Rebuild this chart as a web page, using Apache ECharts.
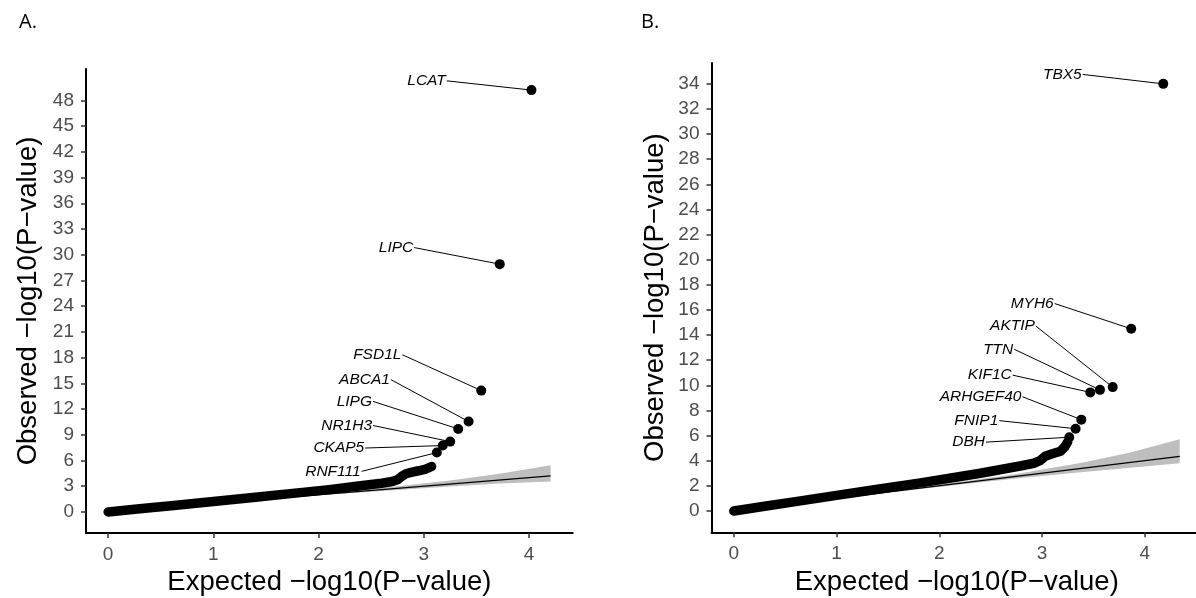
<!DOCTYPE html>
<html><head><meta charset="utf-8">
<script src="https://cdn.jsdelivr.net/npm/echarts@6/dist/echarts.min.js"></script>
<style>html,body{margin:0;padding:0;background:#fff}#c{width:1196px;height:598px}</style>
</head><body><div id="c"></div>
<script>
// ---------- data ----------
const xTicks = [0, 1, 2, 3, 4];
const yTicksA = [0, 3, 6, 9, 12, 15, 18, 21, 24, 27, 30, 33, 36, 39, 42, 45, 48];
const yTicksB = [0, 2, 4, 6, 8, 10, 12, 14, 16, 18, 20, 22, 24, 26, 28, 30, 32, 34];

// bulk of the QQ points (panel A), read along the dense band
const curveAExp = [0, 0.3, 0.6, 1.0, 1.4, 1.8, 2.1, 2.4, 2.6, 2.7, 2.75, 2.79, 2.83, 2.88, 2.95, 3.02, 3.074];
const curveAObs = [0, 0.36, 0.73, 1.22, 1.72, 2.22, 2.6, 3.05, 3.35, 3.55, 3.75, 4.15, 4.45, 4.62, 4.8, 5.0, 5.3];
// bulk of the QQ points (panel B)
const curveBExp = [0, 0.3, 0.6, 1.0, 1.4, 1.8, 2.1, 2.4, 2.6, 2.8, 2.92, 2.98, 3.03, 3.1, 3.18, 3.22, 3.25];
const curveBObs = [0, 0.37, 0.74, 1.24, 1.73, 2.22, 2.6, 3.0, 3.3, 3.6, 3.8, 4.0, 4.35, 4.55, 4.75, 5.1, 5.5];

// labelled genes
const genesA = ['LCAT', 'LIPC', 'FSD1L', 'ABCA1', 'LIPG', 'NR1H3', 'CKAP5', 'RNF111'];
const genesAExp = [4.023, 3.722, 3.546, 3.426, 3.327, 3.251, 3.18, 3.124];
const genesAObs = [49.2, 28.9, 14.15, 10.54, 9.68, 8.2, 7.74, 6.92];
const genesB = ['TBX5', 'MYH6', 'AKTIP', 'TTN', 'KIF1C', 'ARHGEF40', 'FNIP1', 'DBH'];
const genesBExp = [4.18, 3.868, 3.688, 3.564, 3.47, 3.382, 3.327, 3.265];
const genesBObs = [34.0, 14.5, 9.86, 9.64, 9.44, 7.27, 6.55, 5.87];

// label anchor (end of text) in data units
const anchorAExp = [3.209, 2.90, 2.787, 2.678, 2.508, 2.508, 2.434, 2.40];
const anchorAObs = [50.28, 30.83, 18.33, 15.43, 12.89, 10.08, 7.45, 4.73];
const anchorBExp = [3.386, 3.114, 2.93, 2.72, 2.705, 2.80, 2.574, 2.445];
const anchorBObs = [34.75, 16.51, 14.72, 12.87, 10.81, 9.09, 7.19, 5.48];

// null line and confidence band
const ciAExp = [0, 2.0, 2.6, 3.25, 3.72, 4.205];
const ciALow = [0, 1.93, 2.45, 2.95, 3.3, 3.55];
const ciAHigh = [0, 2.08, 2.8, 3.65, 4.45, 5.45];
const ciBExp = [0, 2.0, 2.75, 3.4, 3.86, 4.34];
const ciBLow = [0, 1.93, 2.58, 3.1, 3.45, 3.8];
const ciBHigh = [0, 2.08, 2.95, 3.85, 4.65, 5.7];

// ---------- chart ----------
const FONT = '"Liberation Sans", Arial, Helvetica, sans-serif';
const zip = (a, b) => a.map((v, i) => [v, b[i]]);

function axisPair(gi, xmin, xmax, ymin, ymax, yTicks, yNameGap) {
  const common = {
    type: 'value', gridIndex: gi, splitLine: { show: false },
    axisLine: { show: true, onZero: false, lineStyle: { color: '#000', width: 2 } },
    nameLocation: 'middle',
    nameTextStyle: { fontSize: 27.5, color: '#000', fontFamily: FONT }
  };
  return {
    x: Object.assign({}, common, {
      min: xmin, max: xmax,
      axisTick: { show: true, length: 5, lineStyle: { color: '#333', width: 1.5 }, customValues: xTicks },
      axisLabel: { customValues: xTicks, color: '#4d4d4d', fontSize: 19, margin: 12, fontFamily: FONT },
      name: 'Expected \u2212log10(P\u2212value)', nameGap: 34
    }),
    y: Object.assign({}, common, {
      min: ymin, max: ymax,
      axisTick: { show: true, length: 5, lineStyle: { color: '#333', width: 1.5 }, customValues: yTicks },
      axisLabel: { customValues: yTicks, color: '#4d4d4d', fontSize: 19, margin: 12, fontFamily: FONT },
      name: 'Observed \u2212log10(P\u2212value)', nameGap: yNameGap
    })
  };
}

const axA = axisPair(0, -0.21025, 4.41525, -2.46, 51.66, yTicksA, 44);
const axB = axisPair(1, -0.217, 4.557, -1.698, 35.66, yTicksB, 42);

function bandSeries(gi, ex, lo, hi) {
  return {
    type: 'custom', xAxisIndex: gi, yAxisIndex: gi, silent: true, z: 1,
    data: [[ex[0], lo[0]]],
    renderItem: function (params, api) {
      const pts = [];
      for (let i = 0; i < ex.length; i++) pts.push(api.coord([ex[i], hi[i]]));
      for (let i = ex.length - 1; i >= 0; i--) pts.push(api.coord([ex[i], lo[i]]));
      return { type: 'polygon', shape: { points: pts }, style: { fill: '#bebebe' } };
    }
  };
}

function nullLine(gi, ex) {
  const m = ex[ex.length - 1];
  return {
    type: 'line', xAxisIndex: gi, yAxisIndex: gi, data: [[0, 0], [m, m]],
    showSymbol: false, silent: true, z: 2,
    lineStyle: { color: '#000', width: 1.2 }
  };
}

function curveSeries(gi, ex, ob) {
  return {
    type: 'line', xAxisIndex: gi, yAxisIndex: gi, data: zip(ex, ob),
    showSymbol: false, silent: true, z: 3,
    lineStyle: { color: '#000', width: 9.5, cap: 'round', join: 'round', opacity: 1 }
  };
}

function pointSeries(gi, ex, ob) {
  return {
    type: 'scatter', xAxisIndex: gi, yAxisIndex: gi, data: zip(ex, ob),
    symbolSize: 10, itemStyle: { color: '#000', opacity: 1 }, silent: true, z: 4
  };
}

function labelSeries(gi, names, ex, ob, ax, ay) {
  return {
    type: 'custom', xAxisIndex: gi, yAxisIndex: gi, silent: true, z: 5,
    data: zip(ex, ob),
    renderItem: function (params, api) {
      const i = params.dataIndex;
      const p = api.coord([ex[i], ob[i]]);
      const a = api.coord([ax[i], ay[i]]);
      return {
        type: 'group',
        children: [
          { type: 'line', shape: { x1: a[0] + 1, y1: a[1], x2: p[0], y2: p[1] },
            style: { stroke: '#000', lineWidth: 1 } },
          { type: 'text', x: a[0], y: a[1],
            style: { text: names[i], align: 'right', verticalAlign: 'middle',
                     font: 'italic 15.5px ' + FONT, fill: '#000' } }
        ]
      };
    }
  };
}

const chart = echarts.init(document.getElementById('c'), null, { renderer: 'canvas' });
chart.setOption({
  animation: false,
  backgroundColor: '#fff',
  title: [
    { text: 'A.', left: 14, top: 7, textStyle: { fontSize: 20, fontWeight: 'normal', color: '#000', fontFamily: '"Open Sans", sans-serif' } },
    { text: 'B.', left: 636, top: 7, textStyle: { fontSize: 20, fontWeight: 'normal', color: '#000', fontFamily: '"Open Sans", sans-serif' } }
  ],
  grid: [
    { left: 86, top: 69, width: 486.7, height: 464, outerBoundsMode: 'none', containLabel: false },
    { left: 711.5, top: 63, width: 490.5, height: 469.3, outerBoundsMode: 'none', containLabel: false }
  ],
  xAxis: [axA.x, axB.x],
  yAxis: [axA.y, axB.y],
  series: [
    bandSeries(0, ciAExp, ciALow, ciAHigh),
    nullLine(0, ciAExp),
    curveSeries(0, curveAExp, curveAObs),
    pointSeries(0, genesAExp, genesAObs),
    labelSeries(0, genesA, genesAExp, genesAObs, anchorAExp, anchorAObs),
    bandSeries(1, ciBExp, ciBLow, ciBHigh),
    nullLine(1, ciBExp),
    curveSeries(1, curveBExp, curveBObs),
    pointSeries(1, genesBExp, genesBObs),
    labelSeries(1, genesB, genesBExp, genesBObs, anchorBExp, anchorBObs)
  ]
});
</script>
</body></html>
